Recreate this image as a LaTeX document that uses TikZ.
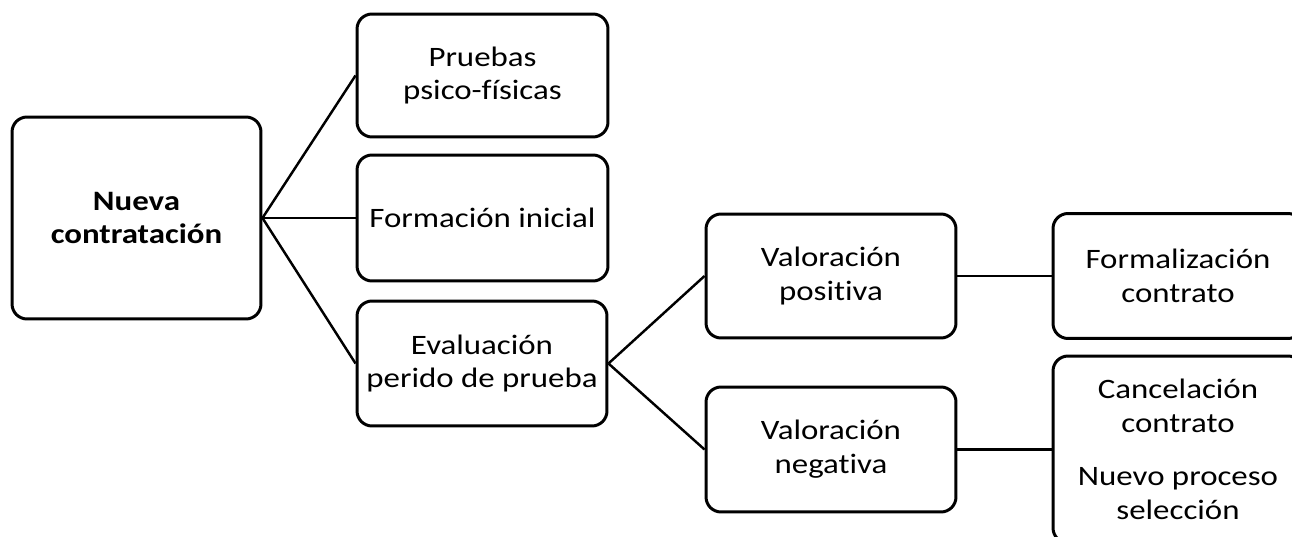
\documentclass[tikz,border=0pt]{standalone}
\usepackage{fontspec}
\setmainfont{Carlito}[FakeStretch=1.17, Ligatures=NoCommon]
\usepackage{tikz}
\usetikzlibrary{calc}
\tikzset{>=latex}

\begin{document}
\begin{tikzpicture}[x=0.02cm, y=-0.02cm,
  box/.style={draw, line width=1.7pt, rounded corners=0.3cm, align=center,
    inner sep=0pt, font=\fontsize{16}{19.3}\selectfont},
  link/.style={line width=1.4pt}]
\useasboundingbox (0,0) rectangle (1292,537);
\clip (0,0) rectangle (1292,537);
\node[box, minimum width=4.98cm, minimum height=4.04cm, font=\fontsize{16}{19.3}\selectfont\bfseries] (nueva) at (136.5,218) {Nueva\\contratación};
\node[box, minimum width=5.02cm, minimum height=2.46cm] (pruebas) at (482.5,75.5) {Pruebas\\psico-físicas};
\node[box, minimum width=5.02cm, minimum height=2.52cm] (formacion) at (482.5,218) {Formación inicial};
\node[box, minimum width=5.0cm, minimum height=2.5cm] (evaluacion) at (482,363.5) {Evaluación\\perido de prueba};
\node[box, minimum width=5.0cm, minimum height=2.48cm] (positiva) at (831,276) {Valoración\\positiva};
\node[box, minimum width=5.0cm, minimum height=2.5cm] (negativa) at (831,449.5) {Valoración\\negativa};
\node[box, minimum width=5.0cm, minimum height=2.5cm] (formal) at (1178,276) {Formalización\\contrato};
\node[box, minimum width=5.0cm, minimum height=3.74cm] (cancel) at (1178,449.5) {Cancelación\\contrato\\[11pt]Nuevo proceso\\selección};
% connectors
\draw[link] (nueva.east) -- (pruebas.west);
\draw[link] (nueva.east) -- (formacion.west);
\draw[link] (nueva.east) -- (evaluacion.west);
\draw[link] (evaluacion.east) -- (positiva.west);
\draw[link] (evaluacion.east) -- (negativa.west);
\draw[link] (positiva.east) -- (formal.west);
\draw[link] (negativa.east) -- (cancel.west);
\end{tikzpicture}
\end{document}
